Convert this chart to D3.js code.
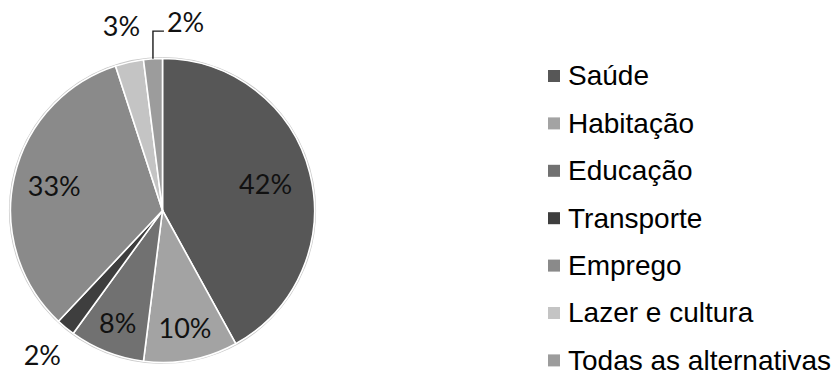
<!DOCTYPE html>
<html>
<head>
<meta charset="utf-8">
<script src="https://cdn.jsdelivr.net/npm/d3@7"></script>
<style>
  html, body { margin: 0; padding: 0; background: #ffffff; }
  svg { display: block; }
</style>
</head>
<body>
<svg id="chart" width="837" height="373"></svg>
<script>
// Share of answers per area (percent)
const categories = ["Saúde", "Habitação", "Educação", "Transporte", "Emprego", "Lazer e cultura", "Todas as alternativas"];
const shares = [42, 10, 8, 2, 33, 3, 2];
const sliceColors = ["#575757", "#a3a3a3", "#717171", "#3e3e3e", "#8a8a8a", "#c4c4c4", "#9c9c9c"];

const data = categories.map((c, i) => ({ category: c, value: shares[i], color: sliceColors[i] }));

const svg = d3.select("#chart");
const cx = 162.5, cy = 210.5, radius = 152;

// Inside-label distance from the centre, as a share of the radius
const insideLabelRadius = { "Saúde": 0.70, "Habitação": 0.79, "Educação": 0.80, "Emprego": 0.73 };
const outsideLabelRadius = 1.24;
const labelFont = "Lato, 'Open Sans', sans-serif";
const labelSize = 27;

const pie = d3.pie().sort(null).value(d => d.value);
const arcs = pie(data);
const arc = d3.arc().innerRadius(0).outerRadius(radius);

const g = svg.append("g").attr("transform", `translate(${cx},${cy})`);

// soft rim around the pie
g.append("circle")
  .attr("r", radius + 0.8)
  .attr("fill", "none")
  .attr("stroke", "#c8c8c8")
  .attr("stroke-width", 1.6);

g.selectAll("path.slice")
  .data(arcs)
  .join("path")
  .attr("class", "slice")
  .attr("d", arc)
  .attr("fill", d => d.data.color)
  .attr("stroke", "#ffffff")
  .attr("stroke-width", 1.6)
  .attr("stroke-linejoin", "round");

const midAngle = d => (d.startAngle + d.endAngle) / 2;
const polar = (a, r) => [Math.sin(a) * r, -Math.cos(a) * r];

// Labels inside the larger slices
arcs.filter(d => d.data.value >= 5).forEach(d => {
  const [x, y] = polar(midAngle(d), radius * (insideLabelRadius[d.data.category] || 0.75));
  g.append("text")
    .attr("x", x).attr("y", y)
    .attr("dy", "0.36em")
    .attr("text-anchor", "middle")
    .attr("font-family", labelFont)
    .attr("font-size", labelSize)
    .attr("fill", "#111111")
    .text(d.data.value + "%");
});

// Labels outside the thin slices, with a leader line when a label must move aside
let prevBox = null;
arcs.filter(d => d.data.value < 5).forEach(d => {
  const a = midAngle(d);
  const [x, y] = polar(a, radius * outsideLabelRadius);
  const t = g.append("text")
    .attr("x", x).attr("y", y)
    .attr("dy", "0.36em")
    .attr("text-anchor", "middle")
    .attr("font-family", labelFont)
    .attr("font-size", labelSize)
    .attr("fill", "#111111")
    .text(d.data.value + "%");
  let box = t.node().getBBox();
  const overlaps = prevBox &&
    box.x < prevBox.x + prevBox.width && box.x + box.width > prevBox.x &&
    box.y < prevBox.y + prevBox.height && box.y + box.height > prevBox.y;
  if (overlaps) {
    const [ex, ey] = polar(a, radius);
    const baseY = y + labelSize * 0.36;
    t.attr("text-anchor", "start").attr("x", ex + 14);
    g.append("path")
      .attr("d", `M${ex},${ey}V${baseY - 1}H${ex + 11}`)
      .attr("fill", "none")
      .attr("stroke", "#1a1a1a")
      .attr("stroke-width", 1.4);
    box = t.node().getBBox();
  }
  prevBox = box;
});

// Legend
const legendX = 548, legendTop = 75.5, legendStep = 47.4, swatch = 12;
const legend = svg.append("g");
const rows = legend.selectAll("g.item")
  .data(data)
  .join("g")
  .attr("class", "item")
  .attr("transform", (d, i) => `translate(${legendX},${legendTop + i * legendStep})`);

rows.append("rect")
  .attr("x", 0).attr("y", -swatch / 2 + 0.5)
  .attr("width", swatch).attr("height", swatch)
  .attr("fill", d => d.color);

rows.append("text")
  .attr("x", 20)
  .attr("dy", "0.355em")
  .attr("font-family", "'Liberation Sans', Arial, sans-serif")
  .attr("font-size", 28)
  .attr("fill", "#000000")
  .text(d => d.category);
</script>
</body>
</html>
